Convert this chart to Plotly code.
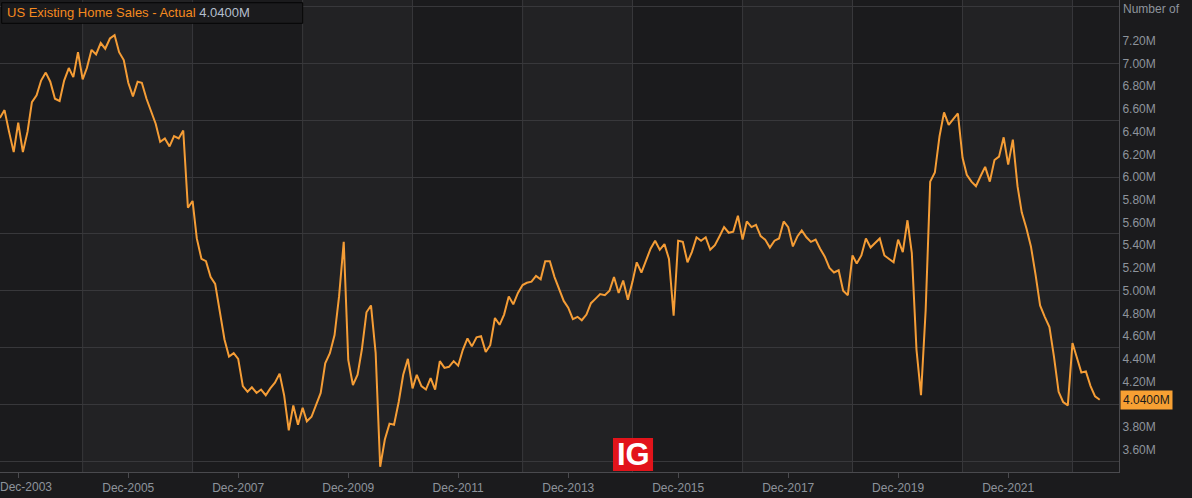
import plotly.graph_objects as go
import pandas as pd

# ---- data (millions of units, SAAR), monthly from Aug-2003 to Aug-2023 ----
sales_2003 = [6.52, 6.59, 6.40, 6.22, 6.48]  # Aug-Dec
sales_2004 = [6.22, 6.40, 6.66, 6.72, 6.85, 6.92, 6.84, 6.69, 6.67, 6.85, 6.96, 6.88]
sales_2005 = [7.10, 6.86, 6.96, 7.12, 7.08, 7.18, 7.13, 7.22, 7.25, 7.10, 7.03, 6.83]
sales_2006 = [6.71, 6.84, 6.83, 6.69, 6.58, 6.47, 6.31, 6.34, 6.27, 6.36, 6.34, 6.41]
sales_2007 = [5.73, 5.79, 5.46, 5.28, 5.26, 5.12, 5.06, 4.83, 4.57, 4.42, 4.45, 4.40]
sales_2008 = [4.16, 4.11, 4.15, 4.10, 4.13, 4.08, 4.14, 4.19, 4.27, 4.08, 3.77, 3.99]
sales_2009 = [3.82, 3.97, 3.85, 3.89, 3.99, 4.10, 4.36, 4.45, 4.61, 4.95, 5.43, 4.39]
sales_2010 = [4.17, 4.26, 4.48, 4.81, 4.87, 4.45, 3.45, 3.69, 3.83, 3.82, 4.02, 4.26]
sales_2011 = [4.40, 4.14, 4.26, 4.16, 4.13, 4.23, 4.13, 4.38, 4.32, 4.33, 4.38, 4.34]
sales_2012 = [4.48, 4.58, 4.51, 4.59, 4.60, 4.46, 4.52, 4.76, 4.70, 4.79, 4.95, 4.88]
sales_2013 = [4.98, 5.05, 5.07, 5.08, 5.13, 5.10, 5.26, 5.26, 5.12, 5.02, 4.91, 4.85]
sales_2014 = [4.75, 4.77, 4.74, 4.79, 4.89, 4.93, 4.97, 4.96, 5.00, 5.12, 4.98, 5.09]
sales_2015 = [4.92, 5.08, 5.25, 5.16, 5.26, 5.37, 5.44, 5.36, 5.41, 5.28, 4.78, 5.44]
sales_2016 = [5.43, 5.25, 5.34, 5.47, 5.44, 5.47, 5.36, 5.40, 5.48, 5.56, 5.51, 5.52]
sales_2017 = [5.66, 5.45, 5.61, 5.56, 5.58, 5.48, 5.45, 5.38, 5.44, 5.46, 5.61, 5.56]
sales_2018 = [5.39, 5.48, 5.53, 5.47, 5.43, 5.45, 5.37, 5.30, 5.20, 5.16, 5.18, 5.00]
sales_2019 = [4.96, 5.31, 5.24, 5.31, 5.46, 5.38, 5.42, 5.46, 5.31, 5.28, 5.25, 5.45]
sales_2020 = [5.34, 5.62, 5.33, 4.48, 4.08, 4.83, 5.96, 6.04, 6.36, 6.57, 6.46, 6.51]
sales_2021 = [6.56, 6.17, 6.02, 5.96, 5.92, 6.01, 6.09, 5.96, 6.15, 6.18, 6.35, 6.11]
sales_2022 = [6.33, 5.92, 5.69, 5.55, 5.39, 5.14, 4.87, 4.77, 4.68, 4.42, 4.11, 4.02]
sales_2023 = [3.99, 4.54, 4.42, 4.28, 4.29, 4.16, 4.07, 4.04]  # Jan-Aug

first_month = "2003-08-01"
series_name = "US Existing Home Sales - Actual"
last_value_label = "4.0400M"
axis_title = "Number of"
x_tick_years = list(range(2003, 2022, 2))
x_tick_labels = [f"Dec-{y}" for y in x_tick_years]
y_tick_values = [round(3.6 + 0.2 * i, 2) for i in range(19)]
y_tick_labels = [f"{v:.2f}M" for v in y_tick_values]
y_grid_values = [3.5 + 0.5 * i for i in range(9)]
band_years = list(range(2005, 2024, 2))

values = (sales_2003 + sales_2004 + sales_2005 + sales_2006 + sales_2007 + sales_2008
          + sales_2009 + sales_2010 + sales_2011 + sales_2012 + sales_2013 + sales_2014
          + sales_2015 + sales_2016 + sales_2017 + sales_2018 + sales_2019 + sales_2020
          + sales_2021 + sales_2022 + sales_2023)
dates = pd.date_range(first_month, periods=len(values), freq="MS")

# ---- styles ----
BG_DARK = "#1b1b1d"
BG_LIGHT = "#222224"
GRID = "#38383b"
AXIS = "#4a4a4e"
TXT = "#8e949c"
ORANGE = "#f59d36"
FONT = "Liberation Sans, Arial, sans-serif"

fig = go.Figure()
fig.add_trace(go.Scatter(x=dates, y=values, mode="lines",
                         line=dict(color=ORANGE, width=2), hoverinfo="skip",
                         showlegend=False))

shapes = []
# alternating vertical bands and vertical grid lines
for i, yr in enumerate(band_years):
    if i % 2 == 0 and yr + 2 <= 2024:
        shapes.append(dict(type="rect", xref="x", yref="paper",
                           x0=f"{yr}-02-01", x1=f"{yr + 2}-02-01", y0=0, y1=1,
                           fillcolor=BG_LIGHT, line=dict(width=0), layer="below"))
for yr in band_years:
    shapes.append(dict(type="line", xref="x", yref="paper",
                       x0=f"{yr}-02-01", x1=f"{yr}-02-01", y0=0, y1=1,
                       line=dict(color=GRID, width=1), layer="below"))
# legend box
shapes.append(dict(type="rect", xref="paper", yref="paper",
                   x0=0.0015, x1=0.2705, y0=0.9506, y1=0.9943,
                   fillcolor=BG_DARK, line=dict(color="#050505", width=1), layer="above"))
# IG logo box
shapes.append(dict(type="rect", xref="paper", yref="paper",
                   x0=0.5478, x1=0.5836, y0=0.0021, y1=0.072,
                   fillcolor="#e2141b", line=dict(width=0), layer="above"))

annotations = [
    dict(xref="paper", yref="paper", x=0.0045, y=0.973, xanchor="left", yanchor="middle",
         showarrow=False, align="left",
         text=f"<span style='color:#f58a1f'>{series_name}</span> "
              f"<span style='color:#b4bfcc'>{last_value_label}</span>",
         font=dict(family=FONT, size=13)),
    dict(xref="paper", yref="paper", x=1, y=0.981, xanchor="left", yanchor="middle",
         xshift=2, showarrow=False, text=axis_title,
         font=dict(family=FONT, size=12, color=TXT)),
    dict(xref="paper", yref="y", x=1, y=values[-1], xanchor="left", yanchor="middle",
         xshift=1, showarrow=False, text=last_value_label, bgcolor="#f7a033",
         borderpad=2, font=dict(family=FONT, size=12, color="#1a1a1a")),
    dict(xref="paper", yref="paper", x=0.5657, y=0.037, xanchor="center", yanchor="middle",
         showarrow=False, text="<b>IG</b>",
         font=dict(family="Liberation Sans, Arial, sans-serif", size=31, color="white")),
    # first x label is clamped to the left edge, as in the reference
    dict(xref="paper", yref="paper", x=0, y=0, xanchor="left", yanchor="middle",
         yshift=-15, xshift=-2, showarrow=False, text=x_tick_labels[0],
         font=dict(family=FONT, size=12, color=TXT)),
]

fig.update_layout(
    width=1192, height=498,
    margin=dict(l=0, r=73, t=0, b=26),
    paper_bgcolor=BG_DARK, plot_bgcolor=BG_DARK,
    shapes=shapes, annotations=annotations,
    xaxis=dict(type="date", range=["2003-08-02", "2023-12-07"],
               tickvals=[f"{y}-12-01" for y in x_tick_years],
               ticktext=[""] + x_tick_labels[1:],
               ticks="outside", ticklen=5, tickcolor=AXIS, showgrid=False,
               showline=True, linecolor=AXIS, linewidth=1, zeroline=False,
               automargin=False,
               tickfont=dict(family=FONT, size=12, color=TXT)),
    yaxis=dict(side="right", range=[3.404, 7.559],
               tickvals=y_tick_values, ticktext=y_tick_labels, ticks="",
               showgrid=False, zeroline=False, showline=True, linecolor=AXIS, linewidth=1,
               automargin=False,
               minor=dict(tickvals=y_grid_values, showgrid=True, gridcolor=GRID,
                          gridwidth=1, ticks=""),
               tickfont=dict(family=FONT, size=12, color=TXT)),
)

fig.write_html("out.html", config={"displayModeBar": False},
               post_script="document.body.style.margin='0';")
